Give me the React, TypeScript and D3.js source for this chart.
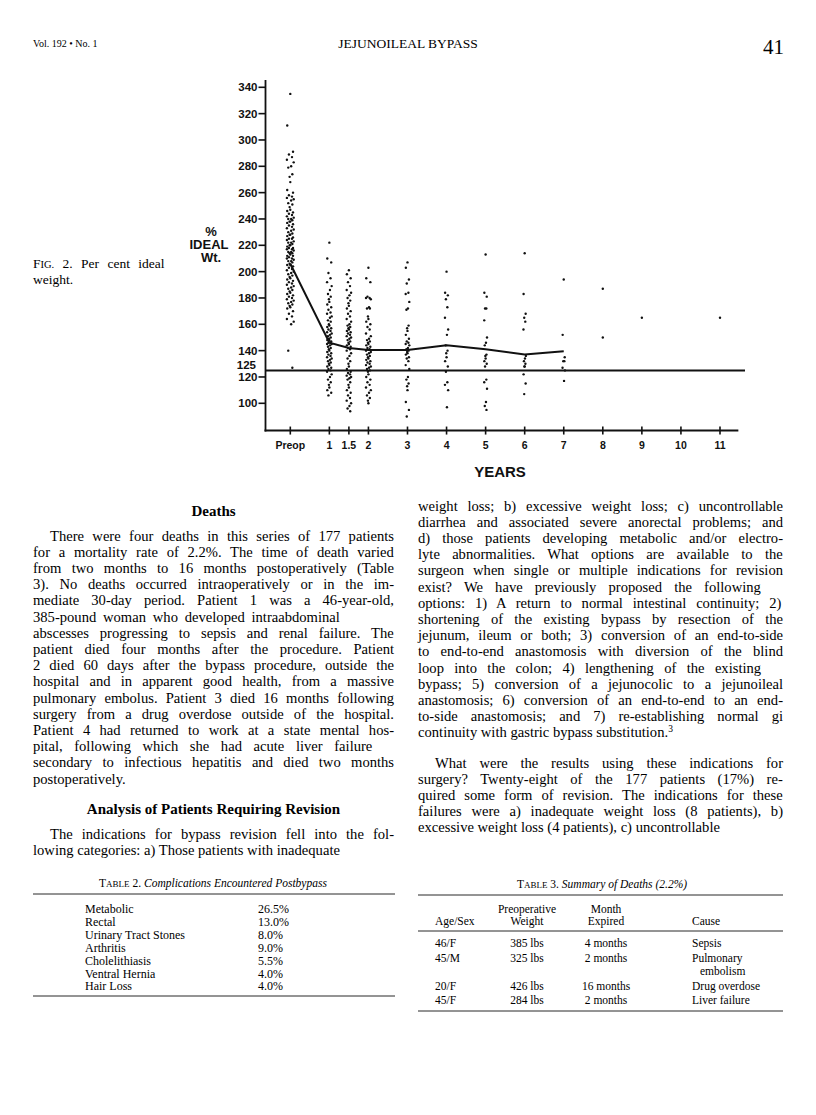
import React from 'react';
import * as d3 from 'd3';

// ---------- chart data ----------
const xTickValues = [0, 1, 1.5, 2, 3, 4, 5, 6, 7, 8, 9, 10, 11];
const xTickLabels = ['Preop', '1', '1.5', '2', '3', '4', '5', '6', '7', '8', '9', '10', '11'];
const yTickValues = [100, 120, 140, 160, 180, 200, 220, 240, 260, 280, 300, 320, 340];

const preopValues = [335, 311, 291, 289, 287, 285, 283, 280, 279, 274, 272, 268, 262, 260, 258, 257, 256, 255, 254, 252, 251, 249, 247, 246, 245, 244, 243, 242, 241, 240, 240, 239, 238, 238, 237, 236, 235, 234, 233, 232, 231, 230, 229, 228, 228, 227, 226, 225, 225, 224, 223, 222, 222, 221, 220, 220, 219, 218, 218, 217, 217, 216, 215, 215, 214, 214, 213, 212, 212, 211, 210, 210, 209, 208, 208, 207, 206, 205, 205, 204, 203, 202, 201, 200, 199, 198, 197, 196, 195, 194, 193, 192, 191, 190, 189, 188, 187, 186, 185, 184, 183, 182, 181, 180, 179, 178, 177, 176, 175, 174, 173, 172, 170, 168, 166, 164, 162, 160, 140, 127];
const year1Values = [222, 210, 207, 199, 195, 192, 189, 186, 183, 181, 179, 177, 175, 173, 171, 169, 168, 166, 165, 163, 162, 160, 159, 158, 157, 156, 155, 154, 153, 152, 151, 150, 149, 148, 148, 147, 146, 146, 145, 145, 144, 143, 142, 141, 140, 139, 138, 137, 136, 135, 134, 133, 132, 131, 130, 129, 128, 127, 126, 125, 124, 122, 120, 118, 116, 114, 112, 110, 108, 106];
const year15Values = [201, 198, 195, 192, 189, 186, 184, 182, 180, 178, 176, 174, 172, 170, 168, 166, 164, 162, 160, 159, 158, 157, 156, 155, 154, 153, 152, 151, 150, 149, 148, 147, 146, 145, 144, 143, 142, 141, 140, 138, 136, 134, 132, 130, 128, 126, 124, 123, 122, 121, 120, 119, 118, 116, 114, 112, 110, 108, 106, 104, 102, 100, 98, 96, 94];
const year2Values = [203, 195, 192, 181, 180, 180, 179, 173, 172, 172, 166, 164, 162, 160, 158, 156, 153, 151, 149, 148, 147, 146, 145, 144, 143, 142, 141, 140, 139, 138, 137, 136, 135, 134, 133, 132, 131, 130, 129, 128, 127, 126, 125, 124, 122, 120, 118, 116, 114, 112, 110, 108, 106, 104, 102, 100];
const year3Values = [207, 203, 194, 191, 184, 183, 177, 172, 171, 159, 157, 155, 152, 149, 147, 146, 145, 144, 142, 141, 140, 139, 138, 137, 135, 134, 132, 129, 126, 120, 118, 115, 113, 110, 101, 95, 90];
const year4Values = [200, 184, 182, 179, 173, 165, 156, 152, 144, 140, 138, 135, 132, 128, 124, 116, 114, 110, 97];
const year5Values = [213, 184, 181, 172, 172, 163, 150, 146, 144, 137, 136, 134, 132, 130, 128, 118, 116, 111, 101, 98, 95];
const year6Values = [214, 183, 168, 165, 162, 156, 136, 134, 132, 130, 128, 128, 122, 115, 107];
const year7Values = [194, 152, 135, 132, 132, 127, 125, 117];
const year8Values = [187, 150];
const year9Values = [165];
const year11Values = [165];

const meanYears = [0, 1, 1.5, 2, 3, 4, 5, 6, 7];
const meanValues = [206, 146, 142, 140.5, 140.5, 144, 141, 137, 139.5];
const referenceValue = 125;

// ---------- page text ----------
const leftColumnLines = [
  'There were four deaths in this series of 177 patients',
  'for a mortality rate of 2.2%. The time of death varied',
  'from two months to 16 months postoperatively (Table',
  '3). No deaths occurred intraoperatively or in the im-',
  'mediate 30-day period. Patient 1 was a 46-year-old,',
  '385-pound woman who developed intraabdominal',
  'abscesses progressing to sepsis and renal failure. The',
  'patient died four months after the procedure. Patient',
  '2 died 60 days after the bypass procedure, outside the',
  'hospital and in apparent good health, from a massive',
  'pulmonary embolus. Patient 3 died 16 months following',
  'surgery from a drug overdose outside of the hospital.',
  'Patient 4 had returned to work at a state mental hos-',
  'pital, following which she had acute liver failure',
  'secondary to infectious hepatitis and died two months',
  'postoperatively.',
];
const leftColumnLines2 = [
  'The indications for bypass revision fell into the fol-',
  'lowing categories: a) Those patients with inadequate',
];
const rightColumnLines = [
  'weight loss; b) excessive weight loss; c) uncontrollable',
  'diarrhea and associated severe anorectal problems; and',
  'd) those patients developing metabolic and/or electro-',
  'lyte abnormalities. What options are available to the',
  'surgeon when single or multiple indications for revision',
  'exist? We have previously proposed the following',
  'options: 1) A return to normal intestinal continuity; 2)',
  'shortening of the existing bypass by resection of the',
  'jejunum, ileum or both; 3) conversion of an end-to-side',
  'to end-to-end anastomosis with diversion of the blind',
  'loop into the colon; 4) lengthening of the existing',
  'bypass; 5) conversion of a jejunocolic to a jejunoileal',
  'anastomosis; 6) conversion of an end-to-end to an end-',
  'to-side anastomosis; and 7) re-establishing normal gi',
  'continuity with gastric bypass substitution.',
];
const rightColumnLines2 = [
  'What were the results using these indications for',
  'surgery? Twenty-eight of the 177 patients (17%) re-',
  'quired some form of revision. The indications for these',
  'failures were a) inadequate weight loss (8 patients), b)',
  'excessive weight loss (4 patients), c) uncontrollable',
];
// lines that the reference sets short of the full measure (fraction of column width)
const looseLines = ['385-pound woman who developed intraabdominal', 'pital, following which she had acute liver failure', 'exist? We have previously proposed the following', 'loop into the colon; 4) lengthening of the existing'];
const looseFractions = [0.85, 0.94, 0.94, 0.94];

const table2Labels = ['Metabolic', 'Rectal', 'Urinary Tract Stones', 'Arthritis', 'Cholelithiasis', 'Ventral Hernia', 'Hair Loss'];
const table2Values = ['26.5%', '13.0%', '8.0%', '9.0%', '5.5%', '4.0%', '4.0%'];

const table3Age = ['46/F', '45/M', '20/F', '45/F'];
const table3Weight = ['385 lbs', '325 lbs', '426 lbs', '284 lbs'];
const table3Month = ['4 months', '2 months', '16 months', '2 months'];
const table3Cause = [['Sepsis'], ['Pulmonary', 'embolism'], ['Drug overdose'], ['Liver failure']];

const SERIF = "'Liberation Serif', 'Times New Roman', serif";
const SANS = "'Liberation Sans', Arial, Helvetica, sans-serif";
const BODY_SIZE = 14.6;

let _ctx: CanvasRenderingContext2D | null = null;
function measure(text: string, font: string): number {
  if (!_ctx) {
    const c = document.createElement('canvas');
    _ctx = c.getContext('2d');
  }
  if (!_ctx) return text.length * 6;
  _ctx.font = font;
  return _ctx.measureText(text).width;
}

function JustLine({ x, y, width, text, justify, size = BODY_SIZE, sup }: any) {
  let ws = 0;
  if (justify) {
    const li = looseLines.indexOf(text);
    const target = li >= 0 ? width * looseFractions[li] : width;
    const nat = measure(text, `${size}px 'Liberation Serif'`);
    const spaces = (text.match(/ /g) || []).length;
    if (spaces > 0) ws = Math.max(0, (target - nat) / spaces);
  }
  return (
    <text x={x} y={y} fontFamily={SERIF} fontSize={size} style={{ wordSpacing: `${ws}px` }}>
      {text}
      {sup ? <tspan dy={-5} fontSize={size * 0.65}>{sup}</tspan> : null}
    </text>
  );
}

function Column({ lines, x0, width, y0, step, indent = 17, lastSup }: any) {
  return (
    <g>
      {lines.map((t: string, i: number) => {
        const first = i === 0;
        const last = i === lines.length - 1;
        const x = first ? x0 + indent : x0;
        const w = first ? width - indent : width;
        return (
          <JustLine key={i} x={x} y={y0 + i * step} width={w} text={t} justify={!last} sup={last ? lastSup : undefined} />
        );
      })}
    </g>
  );
}

export default function App() {
  const x = d3.scaleLinear().domain([0, 11]).range([290.3, 720]);
  const y = d3.scaleLinear().domain([100, 340]).range([403.3, 87.3]);
  const axisLeft = 265.5;
  const axisBottom = y(79.3);

  const columns = [
    { year: 0, values: preopValues, spread: 3.4 },
    { year: 1, values: year1Values, spread: 2.3 },
    { year: 1.5, values: year15Values, spread: 2.2 },
    { year: 2, values: year2Values, spread: 2.4 },
    { year: 3, values: year3Values, spread: 1.8 },
    { year: 4, values: year4Values, spread: 1.6 },
    { year: 5, values: year5Values, spread: 1.4 },
    { year: 6, values: year6Values, spread: 1.2 },
    { year: 7, values: year7Values, spread: 1.2 },
    { year: 8, values: year8Values, spread: 0 },
    { year: 9, values: year9Values, spread: 0 },
    { year: 11, values: year11Values, spread: 0 },
  ];
  const jitterPattern = [0, -0.9, 0.8, -0.4, 0.5, -1, 1, 0.25, -0.6, 0.6, -0.2];

  const meanLine = d3
    .line<number>()
    .x((_, i) => x(meanYears[i]))
    .y((d) => y(d))(meanValues) as string;

  const leftX = 33;
  const leftW = 361;
  const rightX = 418;
  const rightW = 365;
  const step = 16.2;

  return (
    <svg width={816} height={1115} style={{ position: 'absolute', left: 0, top: 0, background: '#fff' }}>
      <rect x={0} y={0} width={816} height={1115} fill="#fff" />
      {/* running head */}
      <text x={33} y={47} fontFamily={SERIF} fontSize={10}>Vol. 192 • No. 1</text>
      <text x={408} y={48} fontFamily={SERIF} fontSize={13.5} textAnchor="middle">JEJUNOILEAL BYPASS</text>
      <text x={784} y={54} fontFamily={SERIF} fontSize={21} textAnchor="end">41</text>

      {/* figure caption */}
      <text x={33} y={268} fontFamily={SERIF} fontSize={13.5} style={{ wordSpacing: '5px' }}>
        F<tspan fontSize={10.5}>IG.</tspan> 2. Per cent ideal
      </text>
      <text x={33} y={284} fontFamily={SERIF} fontSize={13.5}>weight.</text>

      {/* ---- chart ---- */}
      <g fontFamily={SANS} fontWeight="bold" fill="#111">
        <text x={211} y={236} fontSize={13} textAnchor="middle">%</text>
        <text x={209} y={249} fontSize={13} textAnchor="middle">IDEAL</text>
        <text x={211} y={262} fontSize={13} textAnchor="middle">Wt.</text>

        {/* y axis */}
        <line x1={axisLeft} x2={axisLeft} y1={80} y2={axisBottom + 1} stroke="#111" strokeWidth={1.8} />
        {yTickValues.map((v) => (
          <g key={v}>
            <line x1={axisLeft - 7} x2={axisLeft} y1={y(v)} y2={y(v)} stroke="#111" strokeWidth={1.6} />
            <text x={axisLeft - 8} y={y(v) + 4} fontSize={11.5} textAnchor="end">{v}</text>
          </g>
        ))}
        <text x={256} y={y(referenceValue) - 1} fontSize={11.5} textAnchor="end">{referenceValue}</text>

        {/* x axis */}
        <line x1={axisLeft - 1} x2={x(11.47)} y1={axisBottom} y2={axisBottom} stroke="#111" strokeWidth={2} />
        {xTickValues.map((v, i) => (
          <g key={v}>
            <line x1={x(v)} x2={x(v)} y1={axisBottom - 4} y2={axisBottom + 4} stroke="#111" strokeWidth={1.6} />
            <text x={x(v)} y={449} fontSize={10.5} textAnchor="middle">{xTickLabels[i]}</text>
          </g>
        ))}
        <text x={500} y={477} fontSize={15} textAnchor="middle">YEARS</text>

        {/* reference line at 125 */}
        <line x1={axisLeft} x2={745} y1={y(referenceValue)} y2={y(referenceValue)} stroke="#111" strokeWidth={2} />

        {/* dots */}
        {columns.map((c) =>
          c.values.map((v, i) => (
            <circle
              key={`${c.year}-${i}`}
              cx={x(c.year) + jitterPattern[i % jitterPattern.length] * c.spread}
              cy={y(v)}
              r={1.2}
              fill="#111"
            />
          ))
        )}

        {/* mean line */}
        <path d={meanLine} fill="none" stroke="#111" strokeWidth={2} />
      </g>

      {/* ---- body text ---- */}
      <text x={leftX + leftW / 2} y={516} fontFamily={SERIF} fontSize={15} fontWeight="bold" textAnchor="middle">Deaths</text>
      <Column lines={leftColumnLines} x0={leftX} width={leftW} y0={540.5} step={step} />
      <text x={leftX + leftW / 2} y={814} fontFamily={SERIF} fontSize={15} fontWeight="bold" textAnchor="middle">Analysis of Patients Requiring Revision</text>
      <Column lines={leftColumnLines2} x0={leftX} width={leftW} y0={839} step={step} />

      <Column lines={rightColumnLines} x0={rightX} width={rightW} y0={510.5} step={step} indent={0} lastSup="3" />
      <Column lines={rightColumnLines2} x0={rightX} width={rightW} y0={767.5} step={step} />

      {/* ---- Table 2 ---- */}
      <text x={213} y={887} fontFamily={SERIF} fontSize={11.5} textAnchor="middle">
        T<tspan fontSize={9}>ABLE</tspan> 2. <tspan fontStyle="italic">Complications Encountered Postbypass</tspan>
      </text>
      <line x1={leftX} x2={leftX + leftW + 1} y1={894} y2={894} stroke="#111" strokeWidth={0.9} />
      {table2Labels.map((l, i) => (
        <g key={l} fontFamily={SERIF} fontSize={12}>
          <text x={85} y={913 + i * 12.9}>{l}</text>
          <text x={258} y={913 + i * 12.9}>{table2Values[i]}</text>
        </g>
      ))}
      <line x1={leftX} x2={leftX + leftW + 1} y1={996} y2={996} stroke="#111" strokeWidth={0.9} />

      {/* ---- Table 3 ---- */}
      <text x={602} y={888} fontFamily={SERIF} fontSize={11.5} textAnchor="middle">
        T<tspan fontSize={9}>ABLE</tspan> 3. <tspan fontStyle="italic">Summary of Deaths (2.2%)</tspan>
      </text>
      <line x1={rightX} x2={rightX + rightW} y1={895} y2={895} stroke="#111" strokeWidth={0.9} />
      <g fontFamily={SERIF} fontSize={11.5}>
        <text x={527} y={913} textAnchor="middle">Preoperative</text>
        <text x={527} y={925} textAnchor="middle">Weight</text>
        <text x={606} y={913} textAnchor="middle">Month</text>
        <text x={606} y={925} textAnchor="middle">Expired</text>
        <text x={435} y={925}>Age/Sex</text>
        <text x={692} y={925}>Cause</text>
      </g>
      <line x1={rightX} x2={rightX + rightW} y1={931} y2={931} stroke="#111" strokeWidth={0.9} />
      {table3Age.map((a, i) => {
        const rowY = [947, 962, 990, 1004][i];
        return (
          <g key={i} fontFamily={SERIF} fontSize={11.5}>
            <text x={435} y={rowY}>{a}</text>
            <text x={527} y={rowY} textAnchor="middle">{table3Weight[i]}</text>
            <text x={606} y={rowY} textAnchor="middle">{table3Month[i]}</text>
            {table3Cause[i].map((c, j) => (
              <text key={j} x={j === 0 ? 692 : 700} y={rowY + j * 13}>{c}</text>
            ))}
          </g>
        );
      })}
      <line x1={rightX} x2={rightX + rightW} y1={1011} y2={1011} stroke="#111" strokeWidth={0.9} />
    </svg>
  );
}
